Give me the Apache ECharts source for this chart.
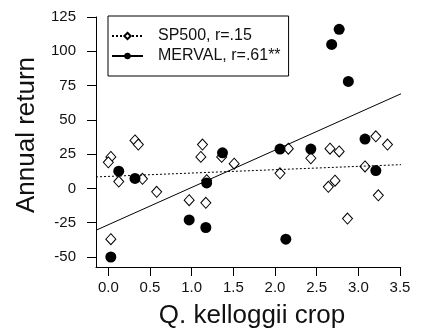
<!DOCTYPE html>
<html>
<head>
<meta charset="utf-8">
<script src="https://cdn.jsdelivr.net/npm/echarts@6/dist/echarts.min.js"></script>
<style>
  html, body { margin: 0; padding: 0; background: #fff; }
  #chart { width: 424px; height: 329px; }
</style>
</head>
<body>
<div id="chart"></div>
<script>
// crop size (x) vs annual return (y)
const sp500Crop = [0.03, 0.0, 0.125, 0.32, 0.36, 0.41, 0.58, 0.03, 1.13, 1.11, 0.97, 1.17, 1.18, 1.36, 1.51,
	2.06, 2.16, 2.43, 2.64, 2.66, 2.72, 2.77, 2.87, 3.08, 3.21, 3.24, 3.35];
const sp500Return = [23, 19, 5, 35, 32, 7, -2.5, -37, 32, 23, -8.6, -10.5, 6, 23, 18,
	11, 29, 22, 1.2, 29, 5.6, 27, -22, 16, 38, -5, 32];

const mervalCrop = [0.03, 0.125, 0.32, 0.97, 1.17, 1.18, 1.37, 2.06, 2.13, 2.43, 2.68, 2.77, 2.88, 3.08, 3.21];
const mervalReturn = [-50, 12.6, 7.3, -23, -28.5, 4, 26, 28.7, -37, 28.7, 105, 116, 78, 36, 13];

// fitted regression lines (end points)
const sp500Fit = [[-0.148, 8.4], [3.62, 17.6]];
const mervalFit = [[-0.148, -30.5], [3.64, 72.5]];

const xTicks = [0, 0.5, 1, 1.5, 2, 2.5, 3, 3.5];
const yTicks = [-50, -25, 0, 25, 50, 75, 100, 125];

const font = 'Liberation Sans, Arial, sans-serif';

function pairs(xs, ys) {
	return xs.map((x, i) => [x, ys[i]]);
}

const chart = echarts.init(document.getElementById('chart'));

const axisCommon = {
	axisLine: { show: true, onZero: false, lineStyle: { color: '#000', width: 1 } },
	axisTick: { show: true, length: 9, lineStyle: { color: '#000', width: 1 } },
	splitLine: { show: false }
};

const option = {
	animation: false,
	backgroundColor: '#fff',
	grid: { left: 96, right: 24, top: 17, bottom: 62, outerBoundsMode: 'none', containLabel: false },
	legend: {
		orient: 'vertical',
		left: 108,
		top: 16,
		data: ['SP500, r=.15', 'MERVAL, r=.61**'],
		itemWidth: 31,
		itemHeight: 8,
		itemGap: 4,
		padding: [12, 8, 12, 3],
		borderColor: '#000',
		borderWidth: 1,
		selectedMode: false,
		textStyle: { color: '#111', fontSize: 16, fontFamily: font, padding: [0, 0, 0, 10] }
	},
	xAxis: {
		...axisCommon,
		type: 'value',
		min: -0.148,
		max: 3.5,
		name: 'Q. kelloggii crop',
		nameLocation: 'middle',
		nameGap: 36,
		nameTextStyle: { color: '#111', fontSize: 26, fontFamily: font, padding: [0, 0, 0, 8] },
		axisTick: { ...axisCommon.axisTick, customValues: xTicks },
		axisLabel: {
			customValues: xTicks,
			margin: 13,
			color: '#111',
			fontSize: 15,
			fontFamily: font,
			formatter: v => v.toFixed(1)
		}
	},
	yAxis: {
		...axisCommon,
		type: 'value',
		min: -57.3,
		max: 125,
		name: 'Annual return',
		nameLocation: 'middle',
		nameGap: 54,
		nameTextStyle: { color: '#111', fontSize: 26, fontFamily: font, padding: [0, 0, 0, 14] },
		axisTick: { ...axisCommon.axisTick, customValues: yTicks },
		axisLabel: {
			customValues: yTicks,
			margin: 20,
			color: '#111',
			fontSize: 15,
			fontFamily: font
		}
	},
	series: [
		{
			name: 'sp500-points',
			type: 'scatter',
			symbol: 'diamond',
			symbolSize: [10, 11],
			itemStyle: { color: '#fff', borderColor: '#000', borderWidth: 1, opacity: 1 },
			z: 2,
			data: pairs(sp500Crop, sp500Return)
		},
		{
			name: 'merval-points',
			type: 'scatter',
			symbol: 'circle',
			symbolSize: 11,
			itemStyle: { color: '#000', opacity: 1 },
			z: 3,
			data: pairs(mervalCrop, mervalReturn)
		},
		{
			name: 'SP500, r=.15',
			type: 'line',
			symbol: 'diamond',
			showSymbol: false,
			clip: false,
			itemStyle: { color: '#fff', borderColor: '#000', borderWidth: 1 },
			lineStyle: { color: '#000', width: 1, type: [2, 2] },
			z: 4,
			data: sp500Fit
		},
		{
			name: 'MERVAL, r=.61**',
			type: 'line',
			symbol: 'circle',
			showSymbol: false,
			clip: false,
			itemStyle: { color: '#000' },
			lineStyle: { color: '#000', width: 1 },
			z: 4,
			data: mervalFit
		}
	]
};

chart.setOption(option);
</script>
</body>
</html>
